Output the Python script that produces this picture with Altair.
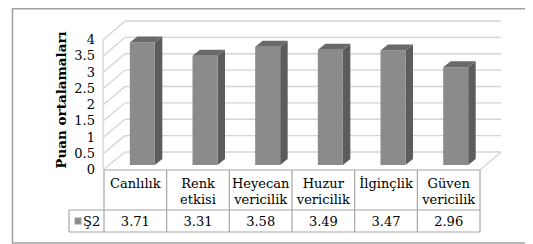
import altair as alt
import pandas as pd

# ---------------- data ----------------
categories = ["Canlılık", "Renk etkisi", "Heyecan vericilik", "Huzur vericilik", "İlginçlik", "Güven vericilik"]
category_lines = [["Canlılık"], ["Renk", "etkisi"], ["Heyecan", "vericilik"], ["Huzur", "vericilik"], ["İlginçlik"], ["Güven", "vericilik"]]
values = [3.71, 3.31, 3.58, 3.49, 3.47, 2.96]
value_labels = ["3.71", "3.31", "3.58", "3.49", "3.47", "2.96"]
series_name = "Ş2"
y_ticks = [0, 0.5, 1, 1.5, 2, 2.5, 3, 3.5, 4]
y_tick_labels = ["0", "0.5", "1", "1.5", "2", "2.5", "3", "3.5", "4"]
y_title = "Puan ortalamaları"

# ---------------- layout (pixels, page coordinates) ----------------
W, H = 517, 236          # svg size; page offset 8px
OFF = 8
COL = 62.67              # table column width
TX0 = 104                # table left edge (page x)
BASE = 165               # bar baseline (page y)
PPU = 33.0               # pixels per value unit for bars
FONT = "DejaVu Serif"
FS = 13

def ux(px):   # page px -> x units
    return (px - TX0) / COL

def uy(py):   # page py -> y units
    return (BASE - py) / PPU

xs = alt.Scale(domain=[ux(OFF), ux(OFF + W)], range=[0, W], nice=False, zero=False)
ys = alt.Scale(domain=[uy(OFF + H), uy(OFF)], range=[H, 0], nice=False, zero=False)
X = lambda f: alt.X(f, type="quantitative", scale=xs, axis=None)
Y = lambda f: alt.Y(f, type="quantitative", scale=ys, axis=None)

# wall geometry
FRONT_L, BACK_L, BACK_R, FRONT_R = 103, 125, 501, 480
FRONT0, FRONT_PPU = 170, 32.5
BACK0, BACK_PPU = 152, 32.75

GRID = "#d4d4d4"
TABLE = "#a6a6a6"

# back wall gridlines + side wall diagonals
grid_rows, diag_rows = [], []
for t in y_ticks:
    yb = uy(BACK0 - t * BACK_PPU)
    grid_rows.append({"x": ux(BACK_L), "x2": ux(BACK_R), "y": yb})
    diag_rows.append({"t": t, "x": ux(FRONT_L), "y": uy(FRONT0 - t * FRONT_PPU)})
    diag_rows.append({"t": t, "x": ux(BACK_L), "y": yb})
grid = alt.Chart(pd.DataFrame(grid_rows)).mark_rule(color=GRID, strokeWidth=1.3).encode(
    x=X("x"), x2="x2", y=Y("y"))
diag = alt.Chart(pd.DataFrame(diag_rows)).mark_line(color=GRID, strokeWidth=1.3).encode(
    x=X("x"), y=Y("y"), detail="t:N")
# side wall front edge, floor right edge
edges = pd.DataFrame([
    {"e": "a", "x": ux(FRONT_L), "y": uy(FRONT0)},
    {"e": "a", "x": ux(FRONT_L), "y": uy(FRONT0 - 4 * FRONT_PPU)},
    {"e": "b", "x": ux(FRONT_R), "y": uy(FRONT0)},
    {"e": "b", "x": ux(BACK_R), "y": uy(BACK0)},
])
edge = alt.Chart(edges).mark_line(color=GRID, strokeWidth=1.3).encode(
    x=X("x"), y=Y("y"), detail="e:N")

# bars
BAR_SHIFT, BAR_HALF = 7, 12.5
DX, DY = 7.5, 6
rows = []
for i, (c, v) in enumerate(zip(categories, values)):
    cx = i + 0.5 + BAR_SHIFT / COL
    rows.append({"cat": c, "v": v, "x": cx - BAR_HALF / COL, "x2": cx + BAR_HALF / COL})
bars = pd.DataFrame(rows)
front = alt.Chart(bars).mark_rect(color="#8b8b8b").encode(
    x=X("x"), x2="x2", y=Y("v"), y2=alt.datum(0))
side_rows, top_rows = [], []
for r in rows:
    side_rows.append({"cat": r["cat"], "x": r["x2"], "y": r["v"], "y2": 0})
    side_rows.append({"cat": r["cat"], "x": r["x2"] + DX / COL, "y": r["v"] + DY / PPU, "y2": DY / PPU})
    top_rows.append({"cat": r["cat"], "y": r["v"], "x": r["x"], "x2": r["x2"]})
    top_rows.append({"cat": r["cat"], "y": r["v"] + DY / PPU, "x": r["x"] + DX / COL, "x2": r["x2"] + DX / COL})
side = alt.Chart(pd.DataFrame(side_rows)).mark_area(color="#5c5c5c").encode(
    x=X("x"), y=Y("y"), y2="y2", detail="cat:N")
top = alt.Chart(pd.DataFrame(top_rows)).mark_area(color="#6a6a6a", orient="horizontal").encode(
    y=Y("y"), x=X("x"), x2="x2", detail="cat:N")

# y axis labels (front plane)
ylab = alt.Chart(pd.DataFrame({
    "lab": y_tick_labels,
    "y": [uy(FRONT0 - t * FRONT_PPU) for t in y_ticks],
    "x": [ux(95)] * len(y_ticks)})).mark_text(
    font=FONT, fontSize=FS, align="right", baseline="middle", color="#000").encode(
    x=X("x"), y=Y("y"), text="lab:N")
ytitle = alt.Chart(pd.DataFrame({"t": [y_title], "x": [ux(62)], "y": [uy(100)]})).mark_text(
    font=FONT, fontSize=13.5, fontWeight="bold", angle=270, align="center", baseline="middle",
    color="#000").encode(x=X("x"), y=Y("y"), text="t:N")

# data table
T_TOP, T_MID, T_BOT, LEG_L = 170, 210, 232, 69
hl = pd.DataFrame([
    {"x": ux(TX0), "x2": ux(TX0 + 6 * COL), "y": uy(T_TOP)},
    {"x": ux(LEG_L), "x2": ux(TX0 + 6 * COL), "y": uy(T_MID)},
    {"x": ux(LEG_L), "x2": ux(TX0 + 6 * COL), "y": uy(T_BOT)},
])
vl_rows = [{"x": k, "y": uy(T_TOP), "y2": uy(T_BOT)} for k in range(7)]
vl_rows.append({"x": ux(LEG_L), "y": uy(T_MID), "y2": uy(T_BOT)})
hlines = alt.Chart(hl).mark_rule(color=TABLE, strokeWidth=1.2).encode(x=X("x"), x2="x2", y=Y("y"))
vlines = alt.Chart(pd.DataFrame(vl_rows)).mark_rule(color=TABLE, strokeWidth=1.2).encode(
    x=X("x"), y=Y("y"), y2="y2")

cat_rows = []
for i, lines in enumerate(category_lines):
    for j, s in enumerate(lines):
        cat_rows.append({"s": s, "x": i + 0.5, "y": uy(184 + 16 * j)})
cat_text = alt.Chart(pd.DataFrame(cat_rows)).mark_text(
    font=FONT, fontSize=FS, align="center", baseline="middle", color="#000").encode(
    x=X("x"), y=Y("y"), text="s:N")
val_text = alt.Chart(pd.DataFrame({
    "s": value_labels, "x": [i + 0.5 for i in range(len(values))], "y": [uy(221.5)] * len(values)})).mark_text(
    font=FONT, fontSize=FS, align="center", baseline="middle", color="#000").encode(
    x=X("x"), y=Y("y"), text="s:N")
leg_sq = alt.Chart(pd.DataFrame({"x": [ux(78)], "y": [uy(221)]})).mark_square(
    size=42, color="#8b8b8b", opacity=1, stroke="#bdbdbd", strokeWidth=0.8).encode(x=X("x"), y=Y("y"))
leg_txt = alt.Chart(pd.DataFrame({"s": [series_name], "x": [ux(83)], "y": [uy(221.5)]})).mark_text(
    font=FONT, fontSize=FS, align="left", baseline="middle", color="#000").encode(
    x=X("x"), y=Y("y"), text="s:N")

# outer border
border = alt.Chart(pd.DataFrame({"a": [0]})).mark_rect(
    fill=None, stroke="#a0a0a0", strokeWidth=1.5).encode(
    x=alt.value(4.5), x2=alt.value(W + 20), y=alt.value(0.8), y2=alt.value(235))

chart = alt.layer(
    border, grid, diag, edge, hlines, vlines,
    side, front, top,
    ylab, ytitle, cat_text, val_text, leg_sq, leg_txt,
).properties(
    width=W, height=H, padding=0, autosize=alt.AutoSizeParams(type="none"),
    background="white",
).configure_view(stroke=None)

chart.save("out.html", embed_options={"renderer": "svg", "actions": False})
